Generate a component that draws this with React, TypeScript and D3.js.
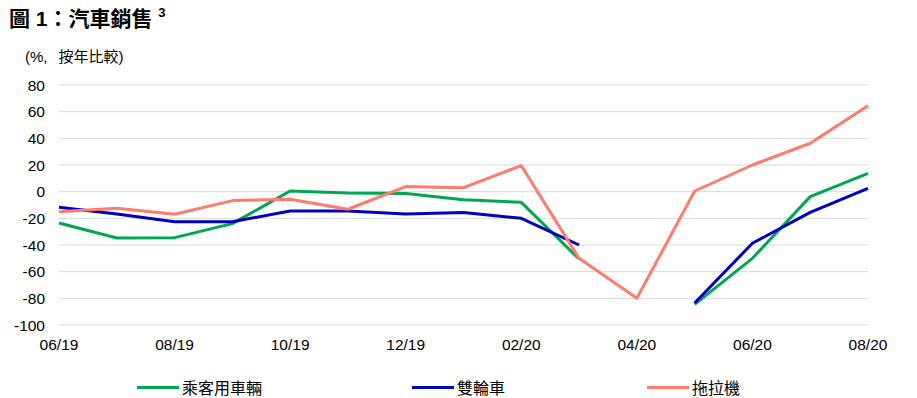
import React, { useEffect, useRef } from 'react';
import * as d3 from 'd3';

const months = ['06/19', '07/19', '08/19', '09/19', '10/19', '11/19', '12/19', '01/20', '02/20', '03/20', '04/20', '05/20', '06/20', '07/20', '08/20'];
const tickLabels = ['06/19', '08/19', '10/19', '12/19', '02/20', '04/20', '06/20', '08/20'];
const yTicks = [80, 60, 40, 20, 0, -20, -40, -60, -80, -100];

const passengerCars: (number | null)[] = [-23.5, -34.7, -34.5, -24, 0.5, -1, -1.3, -6, -8, -50.5, null, -84.5, -50, -3.7, 13.8];
const twoWheelers: (number | null)[] = [-11.7, -16.7, -22.5, -22.5, -14.5, -14.5, -16.7, -15.7, -20, -40, null, -83.5, -38.7, -15.5, 2.5];
const tractors: (number | null)[] = [-15, -12.5, -17, -6.7, -5.7, -13.2, 3.8, 3, 19.5, -50, -80, 0.5, 20, 36.3, 64.5];

const seriesNames = ['乘客用車輛', '雙輪車', '拖拉機'];
const seriesColors = ['#00a651', '#0000bf', '#ff7b6b'];

const font = '"Liberation Sans", Arial, "Noto Sans CJK TC", sans-serif';

export default function App() {
  const svgRef = useRef<SVGSVGElement>(null);

  useEffect(() => {
    if (!svgRef.current) return;
    const svg = d3.select(svgRef.current);
    svg.selectAll('*').remove();

    const width = 917;
    const height = 398;
    const margin = { left: 59, right: 49, top: 85, bottom: 73 };

    const x = d3.scalePoint<string>()
      .domain(months)
      .range([margin.left, width - margin.right]);

    const y = d3.scaleLinear()
      .domain([-100, 80])
      .range([height - margin.bottom, margin.top]);

    // Title
    const title = svg.append('text')
      .attr('x', 9)
      .attr('y', 26)
      .style('font-family', font)
      .style('font-size', '21px')
      .style('font-weight', 'bold')
      .attr('fill', '#000');
    title.append('tspan').text('圖 1：汽車銷售 ');
    title.append('tspan')
      .attr('dy', -9)
      .style('font-size', '13px')
      .text('3');

    // Unit label
    const unit = svg.append('text')
      .attr('x', 25)
      .attr('y', 62)
      .style('font-family', font)
      .style('font-size', '15px')
      .attr('fill', '#000');
    unit.append('tspan').text('(%,');
    unit.append('tspan').attr('dx', 11).text('按年比較)');

    // Grid
    svg.append('g')
      .selectAll('line')
      .data(yTicks)
      .enter()
      .append('line')
      .attr('x1', margin.left)
      .attr('x2', width - margin.right)
      .attr('y1', d => y(d))
      .attr('y2', d => y(d))
      .attr('stroke', '#d9d9d9')
      .attr('stroke-width', 1);

    // Y labels
    svg.append('g')
      .selectAll('text')
      .data(yTicks)
      .enter()
      .append('text')
      .attr('x', 45)
      .attr('y', d => y(d) + 5.5)
      .attr('text-anchor', 'end')
      .style('font-family', font)
      .style('font-size', '15.5px')
      .attr('fill', '#000')
      .text(d => d);

    // X labels
    svg.append('g')
      .selectAll('text')
      .data(tickLabels)
      .enter()
      .append('text')
      .attr('x', d => x(d) || 0)
      .attr('y', 350)
      .attr('text-anchor', 'middle')
      .style('font-family', font)
      .style('font-size', '15.5px')
      .attr('fill', '#000')
      .text(d => d);

    // Lines
    const line = d3.line<number | null>()
      .defined(d => d !== null)
      .x((_, i) => x(months[i]) || 0)
      .y(d => y(d as number));

    [passengerCars, twoWheelers, tractors].forEach((vals, i) => {
      svg.append('path')
        .datum(vals)
        .attr('d', line)
        .attr('fill', 'none')
        .attr('stroke', seriesColors[i])
        .attr('stroke-width', 3)
        .attr('stroke-linejoin', 'round');
    });

    // Legend
    const legendX = [137, 412, 647];
    const legend = svg.append('g');
    seriesNames.forEach((name, i) => {
      legend.append('line')
        .attr('x1', legendX[i])
        .attr('x2', legendX[i] + 42)
        .attr('y1', 387.5)
        .attr('y2', 387.5)
        .attr('stroke', seriesColors[i])
        .attr('stroke-width', 3);
      legend.append('text')
        .attr('x', legendX[i] + 45)
        .attr('y', 394)
        .style('font-family', font)
        .style('font-size', '16px')
        .attr('fill', '#000')
        .text(name);
    });
  }, []);

  return (
    <svg
      ref={svgRef}
      width={917}
      height={398}
      style={{ position: 'absolute', left: 0, top: 0, background: '#fff' }}
    />
  );
}
